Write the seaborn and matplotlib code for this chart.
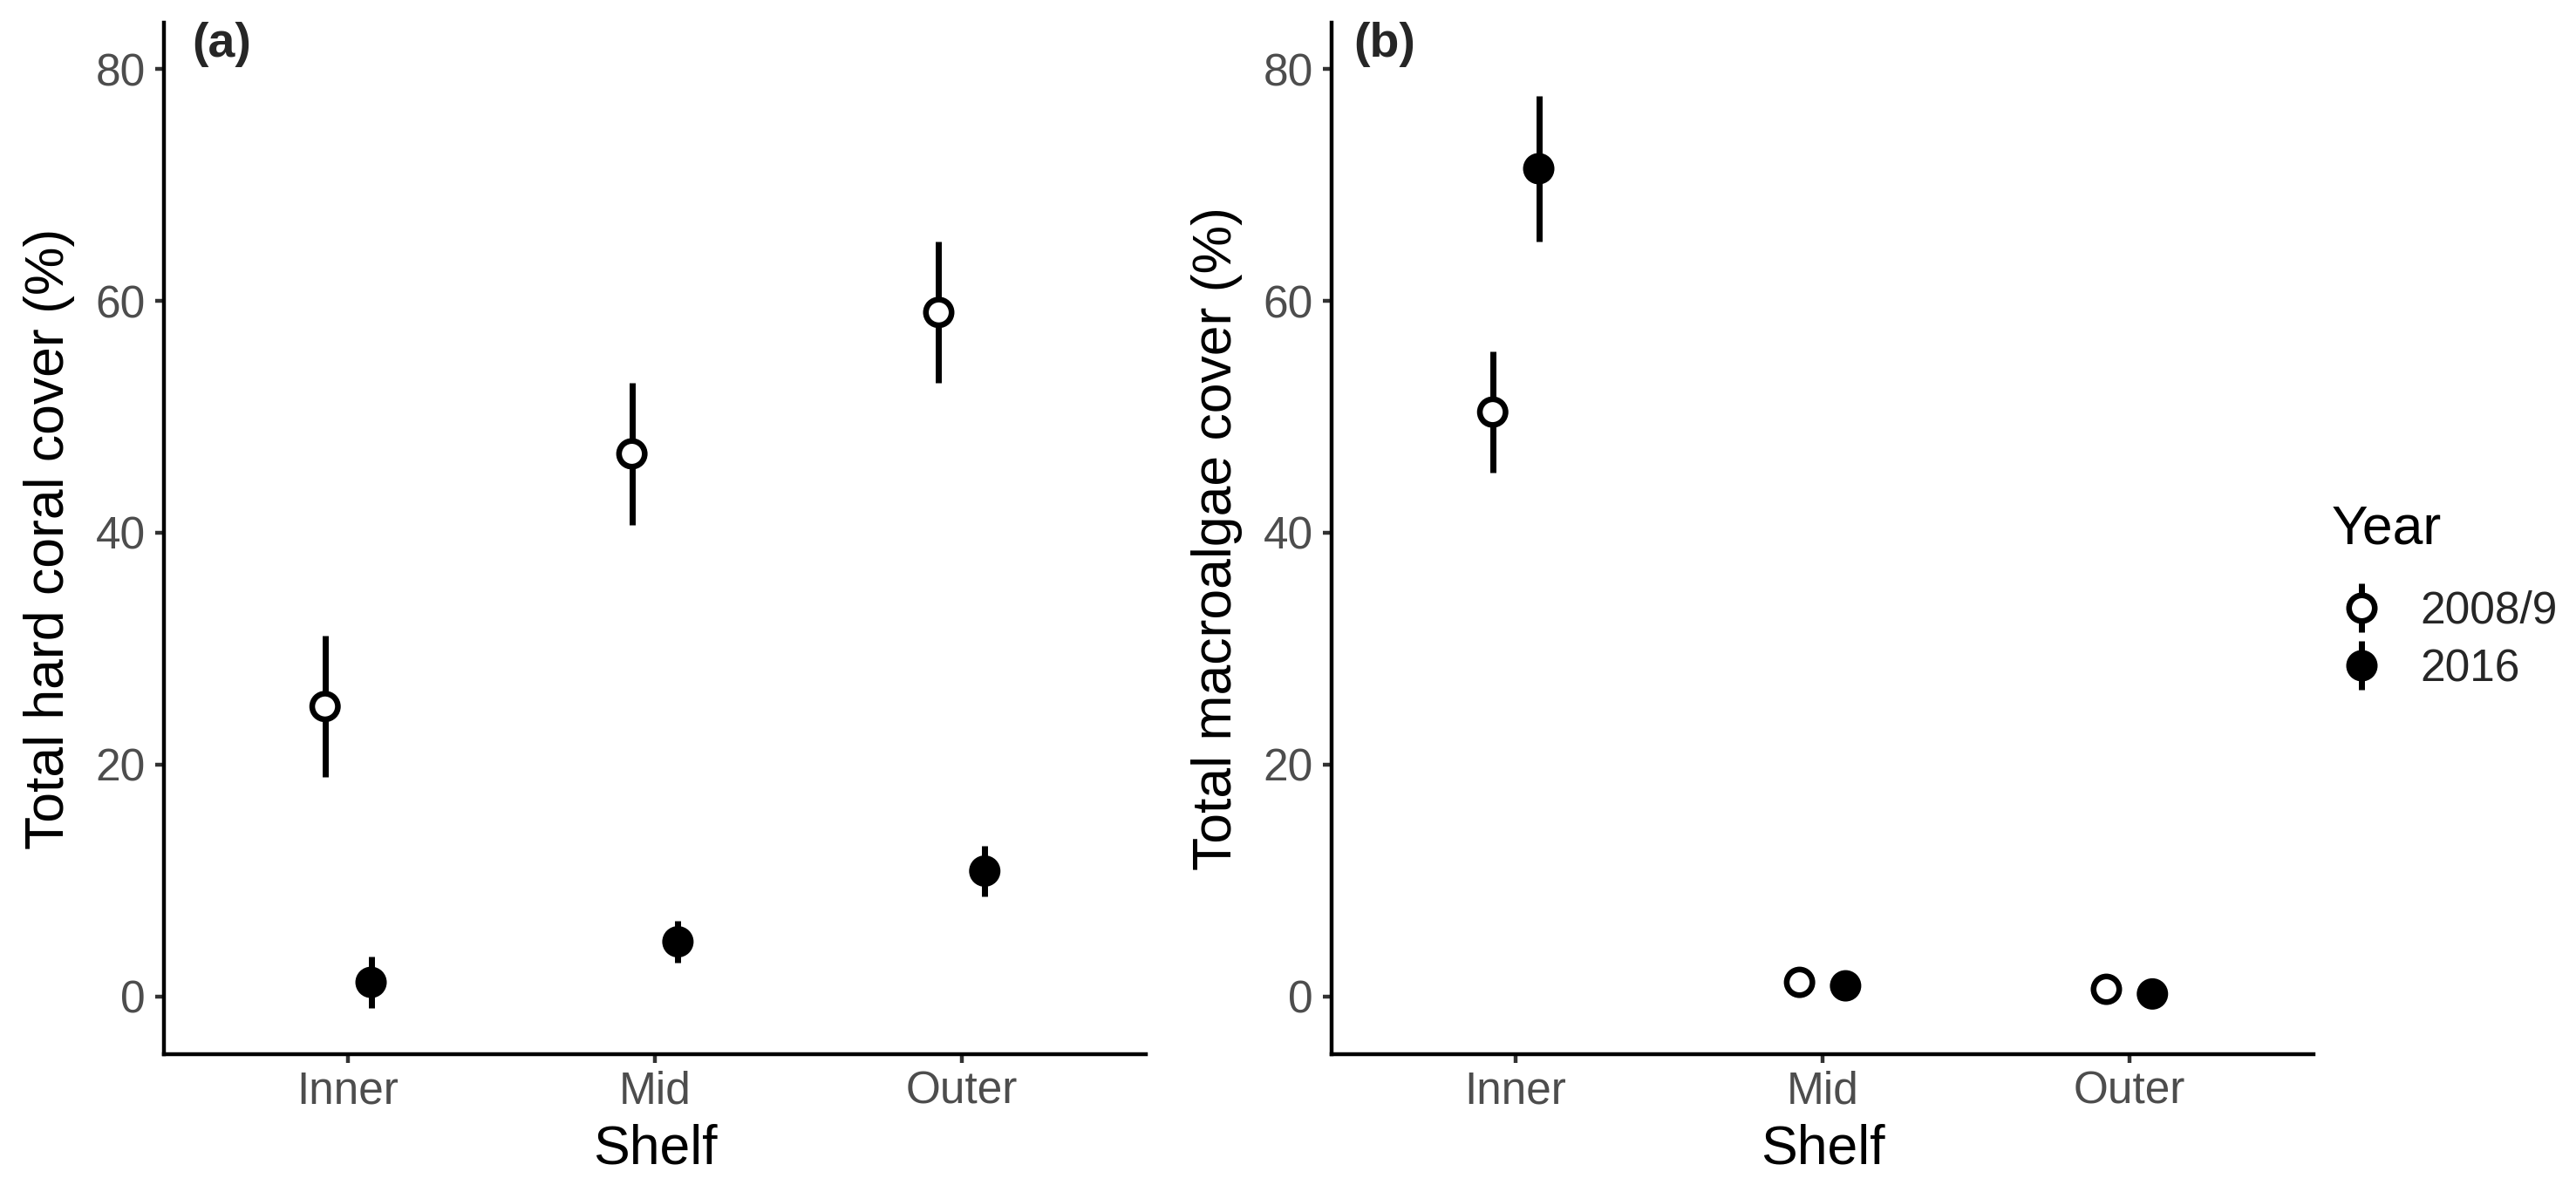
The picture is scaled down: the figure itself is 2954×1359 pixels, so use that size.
import matplotlib
matplotlib.use("Agg")
import matplotlib.pyplot as plt
from matplotlib.lines import Line2D
from matplotlib.legend_handler import HandlerTuple
import seaborn as sns
import pandas as pd

# ---------------- data ----------------
shelf = ["Inner", "Mid", "Outer"]
years = ["2008/9", "2016"]

coral_mean_2008 = [25.0, 46.8, 59.0]
coral_se_2008 = [6.1, 6.1, 6.1]
coral_mean_2016 = [1.2, 4.7, 10.8]
coral_se_2016 = [2.2, 1.8, 2.2]

macro_mean_2008 = [50.4, 1.2, 0.6]
macro_se_2008 = [5.2, 0.5, 0.4]
macro_mean_2016 = [71.4, 0.9, 0.2]
macro_se_2016 = [6.3, 0.5, 0.3]

y_ticks = [0, 20, 40, 60, 80]
panel_tags = ["(a)", "(b)"]
y_titles = ["Total hard coral cover (%)", "Total macroalgae cover (%)"]
x_title = "Shelf"
legend_title = "Year"


def make_df(m08, s08, m16, s16):
    rows = []
    for yr, m, s in ((years[0], m08, s08), (years[1], m16, s16)):
        for sh, mv, sv in zip(shelf, m, s):
            rows.append({"Shelf": sh, "Year": yr, "mean": mv, "se": sv})
    df = pd.DataFrame(rows)
    dodge = {years[0]: -0.075, years[1]: 0.075}
    df["x"] = df["Shelf"].map({s: i + 1 for i, s in enumerate(shelf)}) + df["Year"].map(dodge)
    return df


df_coral = make_df(coral_mean_2008, coral_se_2008, coral_mean_2016, coral_se_2016)
df_macro = make_df(macro_mean_2008, macro_se_2008, macro_mean_2016, macro_se_2016)

# ---------------- style ----------------
sns.set_theme(style="ticks")
plt.rcParams["font.family"] = ["Liberation Sans", "DejaVu Sans"]

W, H = 2954, 1359
fig = plt.figure(figsize=(W / 100, H / 100), dpi=100)


def rect(l, r, t, b):
    return [l / W, 1 - b / H, (r - l) / W, (b - t) / H]


axa = fig.add_axes(rect(188, 1314, 26, 1209))
axb = fig.add_axes(rect(1527, 2653, 26, 1209))

face = {years[0]: "white", years[1]: "black"}
ms = 21.2
mew = 4.7
elw = 5.0

for ax, df, ytitle in ((axa, df_coral, y_titles[0]), (axb, df_macro, y_titles[1])):
    ax.errorbar(df["x"], df["mean"], yerr=df["se"], fmt="none",
                ecolor="black", elinewidth=elw, capsize=0, zorder=2)
    sns.scatterplot(data=df, x="x", y="mean", hue="Year", palette=face,
                    edgecolor="black", linewidth=mew, s=ms ** 2,
                    legend=False, zorder=3, ax=ax)
    ax.set_xlim(0.4, 3.6)
    ax.set_ylim(-5, 84)
    ax.set_xticks([1, 2, 3])
    ax.set_xticklabels(shelf)
    ax.set_yticks(y_ticks)
    ax.set_xlabel(x_title, fontsize=45, color="black")
    ax.set_ylabel(ytitle, fontsize=45, color="black")
    ax.xaxis.set_label_coords(0.5, -0.0668)
    ax.yaxis.set_label_coords(-0.0906, 0.5)
    sns.despine(ax=ax)
    for sp in ("left", "bottom"):
        ax.spines[sp].set_linewidth(3.2)
        ax.spines[sp].set_color("black")
    ax.tick_params(axis="both", length=7.2, width=3.2, color="#333333",
                   labelsize=37, labelcolor="#4D4D4D", pad=6)
    ax.tick_params(axis="y", pad=8)
    ax.grid(False)

fig.text(220 / W, 1 - 65 / H, panel_tags[0], fontsize=40, fontweight="bold",
         ha="left", va="baseline")
fig.text(1552 / W, 1 - 65 / H, panel_tags[1], fontsize=40, fontweight="bold",
         ha="left", va="baseline")

# legend title
fig.text(2674 / W, 1 - 623 / H, legend_title, fontsize=45, ha="left",
         va="baseline", color="black")

handles = []
for yr in years:
    bar = Line2D([], [], linestyle="none", marker="|", markersize=40,
                 markeredgewidth=elw, color="black")
    pt = Line2D([], [], linestyle="none", marker="o", markersize=ms,
                markerfacecolor=face[yr], markeredgecolor="black",
                markeredgewidth=mew)
    handles.append((bar, pt))

fig.legend(handles, years, loc="upper left",
           bbox_to_anchor=(2675 / W, 1 - 677 / H), frameon=False,
           fontsize=37, handlelength=1.28,
           handletextpad=0.67, labelspacing=0.338, borderpad=0,
           borderaxespad=0,
           handler_map={tuple: HandlerTuple(ndivide=1, pad=0)})

fig.savefig("out.png", dpi=100, facecolor="white")
